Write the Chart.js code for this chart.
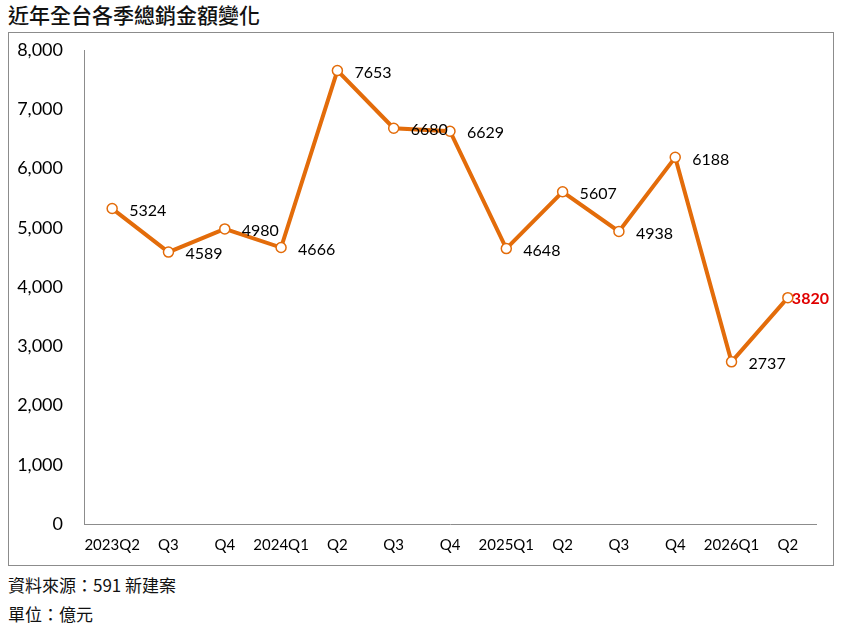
<!DOCTYPE html>
<html>
<head>
<meta charset="utf-8">
<script src="https://cdn.jsdelivr.net/npm/chart.js@4"></script>
<style>
  body { margin: 0; background: #fff; width: 845px; height: 629px; position: relative; overflow: hidden; }
  #title { position: absolute; left: 8px; top: 0px; font: 500 21px "Noto Sans CJK TC", sans-serif; color: #111; line-height: 28px; }
  #box { position: absolute; left: 8px; top: 32px; width: 824px; height: 532px; border: 1px solid #8c8c8c; }
  #salesChart { display: block; }
  .note { position: absolute; left: 8px; font: 400 17px "Noto Sans CJK TC", sans-serif; color: #111; }
</style>
</head>
<body>
<div id="title">近年全台各季總銷金額變化</div>
<div id="box"><canvas id="salesChart" width="824" height="532"></canvas></div>
<div class="note" style="top:572px">資料來源：591 新建案</div>
<div class="note" style="top:601px">單位：億元</div>
<script>
// 季別
const quarters = ['2023Q2', 'Q3', 'Q4', '2024Q1', 'Q2', 'Q3', 'Q4', '2025Q1', 'Q2', 'Q3', 'Q4', '2026Q1', 'Q2'];
// 總銷金額（億元）
const totalSales = [5324, 4589, 4980, 4666, 7653, 6680, 6629, 4648, 5607, 4938, 6188, 2737, 3820];
// Y 軸刻度
const yMin = 0;
const yMax = 8000;
const yStep = 1000;

const lineColor = '#e36c0a';
const tickFont = { family: 'Lato, "Liberation Sans", sans-serif', size: 18 };

// 在每個點右邊寫數值，最後一季用紅字
const valueLabels = {
  id: 'valueLabels',
  afterDatasetsDraw(chart) {
    const ctx = chart.ctx;
    const meta = chart.getDatasetMeta(0);
    const last = totalSales.length - 1;
    ctx.save();
    ctx.textBaseline = 'middle';
    ctx.textAlign = 'left';
    meta.data.forEach((pt, i) => {
      if (i === last) {
        ctx.font = 'bold 16px Lato, sans-serif';
        ctx.fillStyle = '#e00000';
        ctx.fillText(totalSales[i], pt.x + 4, pt.y + 1);
      } else {
        ctx.font = '16px Lato, sans-serif';
        ctx.fillStyle = '#000';
        ctx.fillText(totalSales[i], pt.x + 17, pt.y + 2);
      }
    });
    ctx.restore();
  }
};

const ctx = document.getElementById('salesChart').getContext('2d');
const salesChart = new Chart(ctx, {
  type: 'line',
  data: {
    labels: quarters,
    datasets: [{
      label: '總銷金額',
      data: totalSales,
      borderColor: lineColor,
      borderWidth: 4,
      pointRadius: 5,
      pointBorderWidth: 1.5,
      pointBackgroundColor: '#fff',
      pointBorderColor: lineColor,
      fill: false,
      tension: 0
    }]
  },
  options: {
    responsive: false,
    animation: false,
    layout: { padding: { top: 17, right: 17, left: 0, bottom: 0 } },
    plugins: {
      legend: { display: false },
      tooltip: { enabled: false }
    },
    scales: {
      x: {
        offset: true,
        grid: { display: false, drawTicks: false },
        border: { display: true, color: '#8c8c8c', width: 1 },
        ticks: { color: '#000', font: { ...tickFont, size: 15 }, padding: 12, maxRotation: 0, autoSkip: false },
        afterFit(scale) { scale.height = 41; }
      },
      y: {
        min: yMin,
        max: yMax,
        grid: { display: false, drawTicks: false },
        border: { display: true, color: '#8c8c8c', width: 1 },
        ticks: {
          stepSize: yStep,
          color: '#000',
          font: tickFont,
          padding: 21,
          callback: v => v.toLocaleString('en-US')
        },
        afterFit(scale) {
          scale.width = 75;
          scale.paddingTop = 0;
          scale.paddingBottom = 0;
        }
      }
    }
  },
  plugins: [valueLabels]
});
</script>
</body>
</html>
